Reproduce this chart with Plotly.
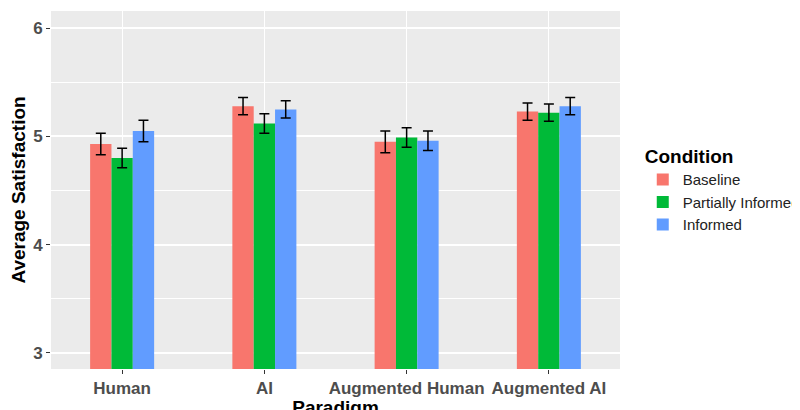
import plotly.graph_objects as go

paradigms = ["Human", "AI", "Augmented Human", "Augmented AI"]
conditions = ["Baseline", "Partially Informed", "Informed"]
colors = ["#F8766D", "#00BA38", "#619CFF"]
means = {
    "Baseline": [4.93, 5.28, 4.95, 5.23],
    "Partially Informed": [4.80, 5.12, 4.99, 5.22],
    "Informed": [5.05, 5.25, 4.96, 5.28],
}
errors = {
    "Baseline": [0.10, 0.08, 0.10, 0.08],
    "Partially Informed": [0.09, 0.09, 0.09, 0.08],
    "Informed": [0.10, 0.08, 0.09, 0.08],
}

fig = go.Figure()
for cond, col in zip(conditions, colors):
    fig.add_trace(go.Bar(
        x=paradigms, y=means[cond], name=cond, marker_color=col,
        marker_line_width=0,
        error_y=dict(type="data", array=errors[cond], color="black",
                     thickness=1.5, width=5),
    ))

font = "Liberation Sans, Arial, sans-serif"
fig.update_layout(
    width=800, height=410,
    barmode="group", bargap=0.55, bargroupgap=0,
    plot_bgcolor="#EBEBEB", paper_bgcolor="white",
    margin=dict(l=43, r=180, t=3, b=49),
    font=dict(family=font, color="#4D4D4D"),
    legend=dict(
        title=dict(text="<b>Condition</b>", font=dict(size=19, color="black")),
        font=dict(size=15, color="#222"), x=1.04, y=0.5, yanchor="middle",
        itemwidth=30,
    ),
    xaxis=dict(
        title=dict(text="<b>Paradigm</b>", font=dict(size=19, color="black"), standoff=0),
        tickfont=dict(size=17, color="#4D4D4D", weight="bold"),
        showgrid=True, gridcolor="white", gridwidth=1.2,
        ticks="outside", ticklen=4, tickcolor="#333",
    ),
    yaxis=dict(
        title=dict(text="<b>Average Satisfaction</b>", font=dict(size=19, color="black"), standoff=4),
        tickfont=dict(size=17, color="#4D4D4D", weight="bold"),
        range=[2.85, 6.16], tickvals=[3, 4, 5, 6],
        gridcolor="white", gridwidth=1.5, zeroline=False,
        ticks="outside", ticklen=4, tickcolor="#333",
        minor=dict(tickvals=[3.5, 4.5, 5.5], showgrid=True, gridcolor="white", gridwidth=0.6),
    ),
)
fig.write_html("out.html")
